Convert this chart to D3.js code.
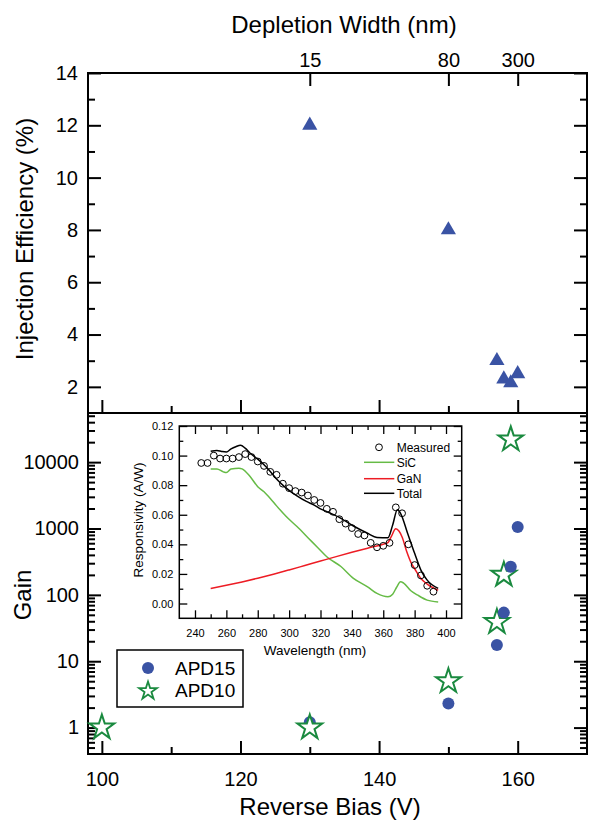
<!DOCTYPE html>
<html><head><meta charset="utf-8">
<script src="https://cdn.jsdelivr.net/npm/d3@7"></script>
<style>body{margin:0;background:#fff} svg{display:block}</style>
</head><body><svg id="c" width="589" height="823"></svg>
<script>
// ---------------- data ----------------
const depletionBias = [130, 150, 160];
const depletionLabels = ["15", "80", "300"];

const injBias = [130, 150, 157, 158, 159, 160];
const injEff  = [12.0, 8.0, 3.0, 2.3, 2.15, 2.5];

const apd15Bias = [130, 150, 157, 158, 159, 160];
const apd15Gain = [1.2, 2.3, 17.5, 54, 265, 1050];
const apd10Bias = [100, 130, 150, 157, 158, 159];
const apd10Gain = [1, 1, 5, 39, 200, 22000];

const biasTicks = [100, 120, 140, 160];
const biasMinor = [110, 130, 150];
const effTicks = [2, 4, 6, 8, 10, 12, 14];
const effMinor = [3, 5, 7, 9, 11, 13];
const gainTicks = [1, 10, 100, 1000, 10000];

// inset
const measWl = [244,248,252,256,260,264,268,272,276,280,284,288,292,296,300,304,308,312,316,320,324,328,332,336,340,344,348,352,356,360,364,368,372,376,380,384,388,392];
const measResp = [0.095,0.095,0.100,0.098,0.098,0.098,0.099,0.101,0.099,0.096,0.093,0.089,0.087,0.081,0.078,0.076,0.075,0.073,0.070,0.068,0.064,0.062,0.057,0.054,0.051,0.047,0.046,0.041,0.038,0.039,0.041,0.065,0.061,0.040,0.026,0.019,0.012,0.008];
const sicWl = [250,254,258,260,263,268,270,275,280,284,288,292,298,305,312,318,324,333,341,350,356,363,366,368.5,371,373,377.6,382,388,395];
const sicResp = [0.091,0.091,0.089,0.0885,0.091,0.0915,0.091,0.086,0.079,0.0755,0.071,0.066,0.059,0.052,0.0445,0.038,0.0316,0.025,0.017,0.0113,0.0068,0.0045,0.0063,0.011,0.0147,0.0138,0.0086,0.0056,0.0023,0.0011];
const ganWl = [250,260,270,280,290,300,310,320,330,340,350,360,363,365,368,370,372,375,378,380,384,388,395];
const ganResp = [0.0102,0.0123,0.0146,0.0171,0.0198,0.0227,0.0257,0.0287,0.0317,0.0346,0.0374,0.0401,0.0412,0.045,0.0505,0.049,0.045,0.035,0.027,0.0235,0.0169,0.0131,0.009];
const totWl = [250,254,257,260,263,266,269,272,275,280,284,288,292,297,301,305,311,316,320,324,333,341,350,356,363,366,369,371,375.5,380,384,388,395];
const totResp = [0.103,0.1035,0.1028,0.1024,0.1045,0.106,0.107,0.105,0.1017,0.0976,0.0938,0.0893,0.0841,0.079,0.0757,0.0728,0.069,0.0665,0.064,0.0621,0.0576,0.0524,0.0475,0.0447,0.0445,0.0531,0.0633,0.061,0.0475,0.0339,0.0226,0.0158,0.0102];
const wlTicks = [240,260,280,300,320,340,360,380,400];
const wlMinor = [250,270,290,310,330,350,370,390];
const respTicks = [0,0.02,0.04,0.06,0.08,0.10,0.12];
const respMinor = [0.01,0.03,0.05,0.07,0.09,0.11];

// ---------------- setup ----------------
const FONT = '"Liberation Sans", Arial, Helvetica, sans-serif';
const BLUE = "#3a53a4", GREEN = "#1a8a3f";
const svg = d3.select("#c");
const L = 88, R = 587, T = 73, MID = 413, B = 754;

const x = d3.scaleLinear().domain([98, 170]).range([L, R]);
const yTop = d3.scaleLinear().domain([1, 14]).range([MID, T]);
const yBot = d3.scaleLog().domain([0.4, 55000]).range([B, MID]);

function drawAxis(axis, tx, ty, fs, sw) {
  const g = svg.append("g").attr("transform", `translate(${tx},${ty})`).call(axis);
  g.attr("font-family", FONT).attr("font-size", fs);
  g.select(".domain").remove();
  g.selectAll("line").attr("stroke", "#000").attr("stroke-width", sw || 2);
  g.selectAll("text").attr("fill", "#000");
  return g;
}

// ---------- top panel axes ----------
drawAxis(d3.axisLeft(yTop).tickValues(effTicks).tickSize(-13).tickPadding(10).tickFormat(d3.format("d")), L, 0, 20);
drawAxis(d3.axisLeft(yTop).tickValues(effMinor).tickSize(-7).tickFormat(""), L, 0, 20);
drawAxis(d3.axisRight(yTop).tickValues(effTicks).tickSize(-13).tickFormat(""), R, 0, 20);
drawAxis(d3.axisRight(yTop).tickValues(effMinor).tickSize(-7).tickFormat(""), R, 0, 20);
drawAxis(d3.axisBottom(x).tickValues(biasTicks).tickSize(-13).tickFormat(""), 0, MID, 20);
drawAxis(d3.axisBottom(x).tickValues(biasMinor).tickSize(-7).tickFormat(""), 0, MID, 20);
drawAxis(d3.axisTop(x).tickValues(depletionBias).tickSize(-13).tickPadding(6).tickFormat((d, i) => depletionLabels[i]), 0, T, 20);

// ---------- bottom panel axes ----------
drawAxis(d3.axisBottom(x).tickValues(biasTicks).tickSize(-13).tickPadding(18).tickFormat(d3.format("d")), 0, B, 20);
drawAxis(d3.axisBottom(x).tickValues(biasMinor).tickSize(-7).tickFormat(""), 0, B, 20);
const gainMinor = [];
[0.1, 1, 10, 100, 1000, 10000].forEach(dec => {
  for (let m = 2; m <= 9; m++) {
    const v = m * dec;
    if (v > 0.4 && v < 55000) gainMinor.push(v);
  }
});
drawAxis(d3.axisLeft(yBot).tickValues(gainTicks).tickSize(-13).tickPadding(9).tickFormat(d3.format("d")), L, 0, 20);
drawAxis(d3.axisLeft(yBot).tickValues(gainMinor).tickSize(-7).tickFormat(""), L, 0, 20);
drawAxis(d3.axisRight(yBot).tickValues(gainTicks).tickSize(-13).tickFormat(""), R, 0, 20);
drawAxis(d3.axisRight(yBot).tickValues(gainMinor).tickSize(-7).tickFormat(""), R, 0, 20);

// frames
svg.append("rect").attr("x", L).attr("y", T).attr("width", R - L).attr("height", B - T)
  .attr("fill", "none").attr("stroke", "#000").attr("stroke-width", 2);
svg.append("line").attr("x1", L).attr("x2", R).attr("y1", MID).attr("y2", MID)
  .attr("stroke", "#000").attr("stroke-width", 2);

// titles
function txt(s, xx, yy, fs, anchor, rot) {
  const t = svg.append("text").attr("font-family", FONT).attr("font-size", fs)
    .attr("text-anchor", anchor || "middle").attr("fill", "#000").text(s);
  if (rot) t.attr("transform", `translate(${xx},${yy}) rotate(${rot})`);
  else t.attr("x", xx).attr("y", yy);
  return t;
}
txt("Depletion Width (nm)", 344, 33, 24);
txt("Reverse Bias (V)", 330, 815, 24);
txt("Injection Efficiency (%)", 33, 239, 24, "middle", -90);
txt("Gain", 31, 595, 24, "middle", -90);

// ---------- top panel marks ----------
svg.append("g").selectAll("path").data(injBias).join("path")
  .attr("d", d3.symbol(d3.symbolTriangle, 100))
  .attr("transform", (d, i) => `translate(${x(d)},${yTop(injEff[i])})`)
  .attr("fill", BLUE);

// ---------- bottom panel marks ----------
const marks = [];
apd15Bias.forEach((b, i) => marks.push({ b, g: apd15Gain[i], s: "APD15" }));
apd10Bias.forEach((b, i) => marks.push({ b, g: apd10Gain[i], s: "APD10" }));
marks.sort((a, c) => a.b - c.b);
const star = d3.symbol(d3.symbolStar, 190);
const mg = svg.append("g");
marks.forEach(m => {
  if (m.s === "APD15") {
    mg.append("circle").attr("cx", x(m.b)).attr("cy", yBot(m.g)).attr("r", 6).attr("fill", BLUE);
  } else {
    mg.append("path").attr("d", star).attr("transform", `translate(${x(m.b)},${yBot(m.g)})`)
      .attr("fill", "#fff").attr("stroke", GREEN).attr("stroke-width", 2).attr("stroke-linejoin", "miter");
  }
});

// legend
svg.append("rect").attr("x", 117).attr("y", 650).attr("width", 126).attr("height", 57)
  .attr("fill", "#fff").attr("stroke", "#000").attr("stroke-width", 1.5);
svg.append("circle").attr("cx", 148).attr("cy", 668).attr("r", 6).attr("fill", BLUE);
svg.append("path").attr("d", d3.symbol(d3.symbolStar, 100)).attr("transform", "translate(148,691)")
  .attr("fill", "#fff").attr("stroke", GREEN).attr("stroke-width", 1.8);
txt("APD15", 175, 675, 19, "start");
txt("APD10", 175, 697, 19, "start");

// ---------- inset ----------
const IL = 179.3, IR = 461.7, IT = 426, IB = 618.3;
const xi = d3.scaleLinear().domain([230, 410]).range([IL, IR]);
const yi = d3.scaleLinear().domain([-0.01, 0.12]).range([IB, IT]);
svg.append("rect").attr("x", IL).attr("y", IT).attr("width", IR - IL).attr("height", IB - IT)
  .attr("fill", "#fff").attr("stroke", "none");

drawAxis(d3.axisBottom(xi).tickValues(wlTicks).tickSize(-8).tickPadding(11).tickFormat(d3.format("d")), 0, IB, 11, 1.3);
drawAxis(d3.axisBottom(xi).tickValues(wlMinor).tickSize(-4).tickFormat(""), 0, IB, 11, 1.3);
drawAxis(d3.axisTop(xi).tickValues(wlTicks).tickSize(-8).tickFormat(""), 0, IT, 11, 1.3);
drawAxis(d3.axisTop(xi).tickValues(wlMinor).tickSize(-4).tickFormat(""), 0, IT, 11, 1.3);
drawAxis(d3.axisLeft(yi).tickValues(respTicks).tickSize(-8).tickPadding(6).tickFormat(d3.format(".2f")), IL, 0, 11, 1.3);
drawAxis(d3.axisLeft(yi).tickValues(respMinor).tickSize(-4).tickFormat(""), IL, 0, 11, 1.3);
drawAxis(d3.axisRight(yi).tickValues(respTicks).tickSize(-8).tickFormat(""), IR, 0, 11, 1.3);
drawAxis(d3.axisRight(yi).tickValues(respMinor).tickSize(-4).tickFormat(""), IR, 0, 11, 1.3);

svg.append("rect").attr("x", IL).attr("y", IT).attr("width", IR - IL).attr("height", IB - IT)
  .attr("fill", "none").attr("stroke", "#000").attr("stroke-width", 1.5);

txt("Wavelength (nm)", 315, 655, 13.5);
txt("Responsivity (A/W)", 143, 520, 13.5, "middle", -90);

const line = d3.line().x(d => xi(d[0])).y(d => yi(d[1])).curve(d3.curveMonotoneX);
function curve(wl, v, color) {
  svg.append("path").attr("d", line(wl.map((w, i) => [w, v[i]])))
    .attr("fill", "none").attr("stroke", color).attr("stroke-width", 1.5).attr("stroke-linejoin", "round");
}
curve(sicWl, sicResp, "#66bb46");
curve(ganWl, ganResp, "#ed1c24");
curve(totWl, totResp, "#000");

svg.append("g").selectAll("circle").data(measWl).join("circle")
  .attr("cx", d => xi(d)).attr("cy", (d, i) => yi(measResp[i])).attr("r", 3.4)
  .attr("fill", "none").attr("stroke", "#000").attr("stroke-width", 1);

// inset legend
svg.append("circle").attr("cx", 379).attr("cy", 447.3).attr("r", 3.4)
  .attr("fill", "none").attr("stroke", "#000").attr("stroke-width", 1);
txt("Measured", 396.7, 452, 12, "start");
[["SiC", "#66bb46", 462.3], ["GaN", "#ed1c24", 478.7], ["Total", "#000", 493.3]].forEach(([n, c, yy]) => {
  svg.append("line").attr("x1", 364).attr("x2", 394.3).attr("y1", yy).attr("y2", yy)
    .attr("stroke", c).attr("stroke-width", 1.5);
  txt(n, 396.7, yy + 4.6, 12, "start");
});
</script></body></html>
